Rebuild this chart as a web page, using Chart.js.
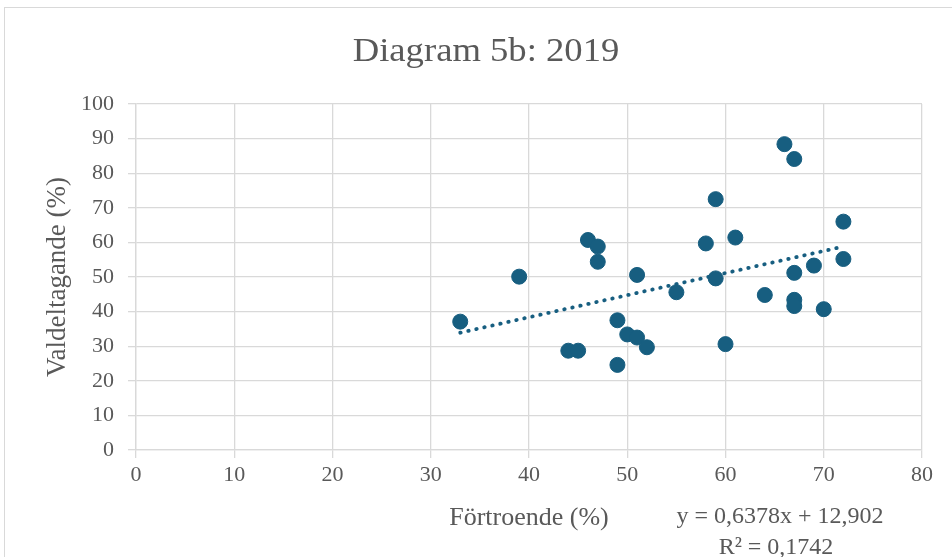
<!DOCTYPE html>
<html>
<head>
<meta charset="utf-8">
<script src="https://cdn.jsdelivr.net/npm/chart.js@4"></script>
<style>
    body { margin: 0; background: #fff; }
    #wrap { position: relative; width: 952px; height: 557px; }
</style>
</head>
<body>
<div id="wrap"><canvas id="myChart" width="952" height="557"></canvas></div>
<script>
// Förtroende (%) per point
const fortroende = [33, 39, 46, 47, 47, 51, 55, 49, 50, 51, 52, 44, 45, 49, 66, 67, 59, 72, 58, 61, 72, 69, 67, 59, 64, 67, 67, 70, 60];
// Valdeltagande (%) per point
const valdeltagande = [37.1, 50.1, 60.7, 58.8, 54.4, 50.6, 45.6, 37.5, 33.4, 32.5, 29.7, 28.7, 28.7, 24.6, 88.4, 84.1, 72.5, 66.0, 59.7, 61.4, 55.2, 53.3, 51.2, 49.6, 44.8, 43.4, 41.6, 40.7, 30.6];
// trendline ends
const trendX = [33, 72];
const trendY = [33.9, 58.8];
const titleText = 'Diagram 5b: 2019';
const equationLines = ['y = 0,6378x + 12,902', 'R² = 0,1742'];
const xRange = [0, 80, 10];
const yRange = [0, 100, 10];

const FONT = '"Liberation Serif", "Times New Roman", serif';
const TEXT = '#595959';
const GRID = '#d9d9d9';
const MARK = '#175e80';

const frame = {
    id: 'frame',
    beforeDraw(chart) {
        const ctx = chart.ctx;
        ctx.save();
        ctx.fillStyle = '#fff';
        ctx.fillRect(0, 0, chart.width, chart.height);
        ctx.strokeStyle = GRID;
        ctx.lineWidth = 1;
        ctx.strokeRect(4.5, 7.5, chart.width + 10, chart.height + 10);
        ctx.restore();
    },
    afterDraw(chart) {
        const ctx = chart.ctx;
        ctx.save();
        ctx.fillStyle = TEXT;
        ctx.textAlign = 'center';
        // title, a little wider than plain Times like in the picture
        ctx.save();
        ctx.font = '33px ' + FONT;
        ctx.textBaseline = 'alphabetic';
        ctx.translate(486, 61);
        ctx.scale(1.11, 1);
        ctx.fillText(titleText, 0, 0);
        ctx.restore();
        ctx.font = '24px ' + FONT;
        ctx.textBaseline = 'middle';
        ctx.fillText(equationLines[0], 780, 517);
        ctx.fillText(equationLines[1], 776, 548);
        ctx.restore();
    }
};

const points = fortroende.map((x, i) => ({ x: x, y: valdeltagande[i] }));
const trend = trendX.map((x, i) => ({ x: x, y: trendY[i] }));

new Chart(document.getElementById('myChart'), {
    type: 'scatter',
    data: {
        datasets: [{
            data: points,
            backgroundColor: MARK,
            borderColor: MARK,
            pointRadius: 7.5,
            pointHoverRadius: 7.5,
            order: 1
        }, {
            type: 'line',
            data: trend,
            borderColor: MARK,
            borderWidth: 3.8,
            borderDash: [0.5, 7.7],
            borderCapStyle: 'round',
            pointRadius: 0,
            fill: false,
            order: 2
        }]
    },
    options: {
        responsive: false,
        animation: false,
        events: [],
        layout: { padding: { left: 0, right: 30, top: 104, bottom: 0 } },
        plugins: {
            legend: { display: false },
            tooltip: { enabled: false },
            title: { display: false }
        },
        scales: {
            x: {
                type: 'linear',
                min: xRange[0],
                max: xRange[1],
                afterFit(scale) { scale.height = 107; },
                ticks: { stepSize: xRange[2], color: TEXT, padding: 4, font: { family: FONT, size: 22 } },
                grid: { color: GRID, lineWidth: 1.3, tickLength: 8 },
                border: { color: GRID, width: 1.3 },
                title: {
                    display: true,
                    text: 'Förtroende (%)',
                    color: TEXT,
                    font: { family: FONT, size: 26 },
                    padding: { top: 0, bottom: 23 }
                }
            },
            y: {
                min: yRange[0],
                max: yRange[1],
                afterFit(scale) { scale.width = 136; },
                ticks: { stepSize: yRange[2], color: TEXT, padding: 14, font: { family: FONT, size: 22 } },
                grid: { color: GRID, lineWidth: 1.3, tickLength: 8 },
                border: { color: GRID, width: 1.3 },
                title: {
                    display: true,
                    text: 'Valdeltagande (%)',
                    color: TEXT,
                    font: { family: FONT, size: 27 },
                    padding: { top: 42, bottom: 0 }
                }
            }
        }
    },
    plugins: [frame]
});
</script>
</body>
</html>
